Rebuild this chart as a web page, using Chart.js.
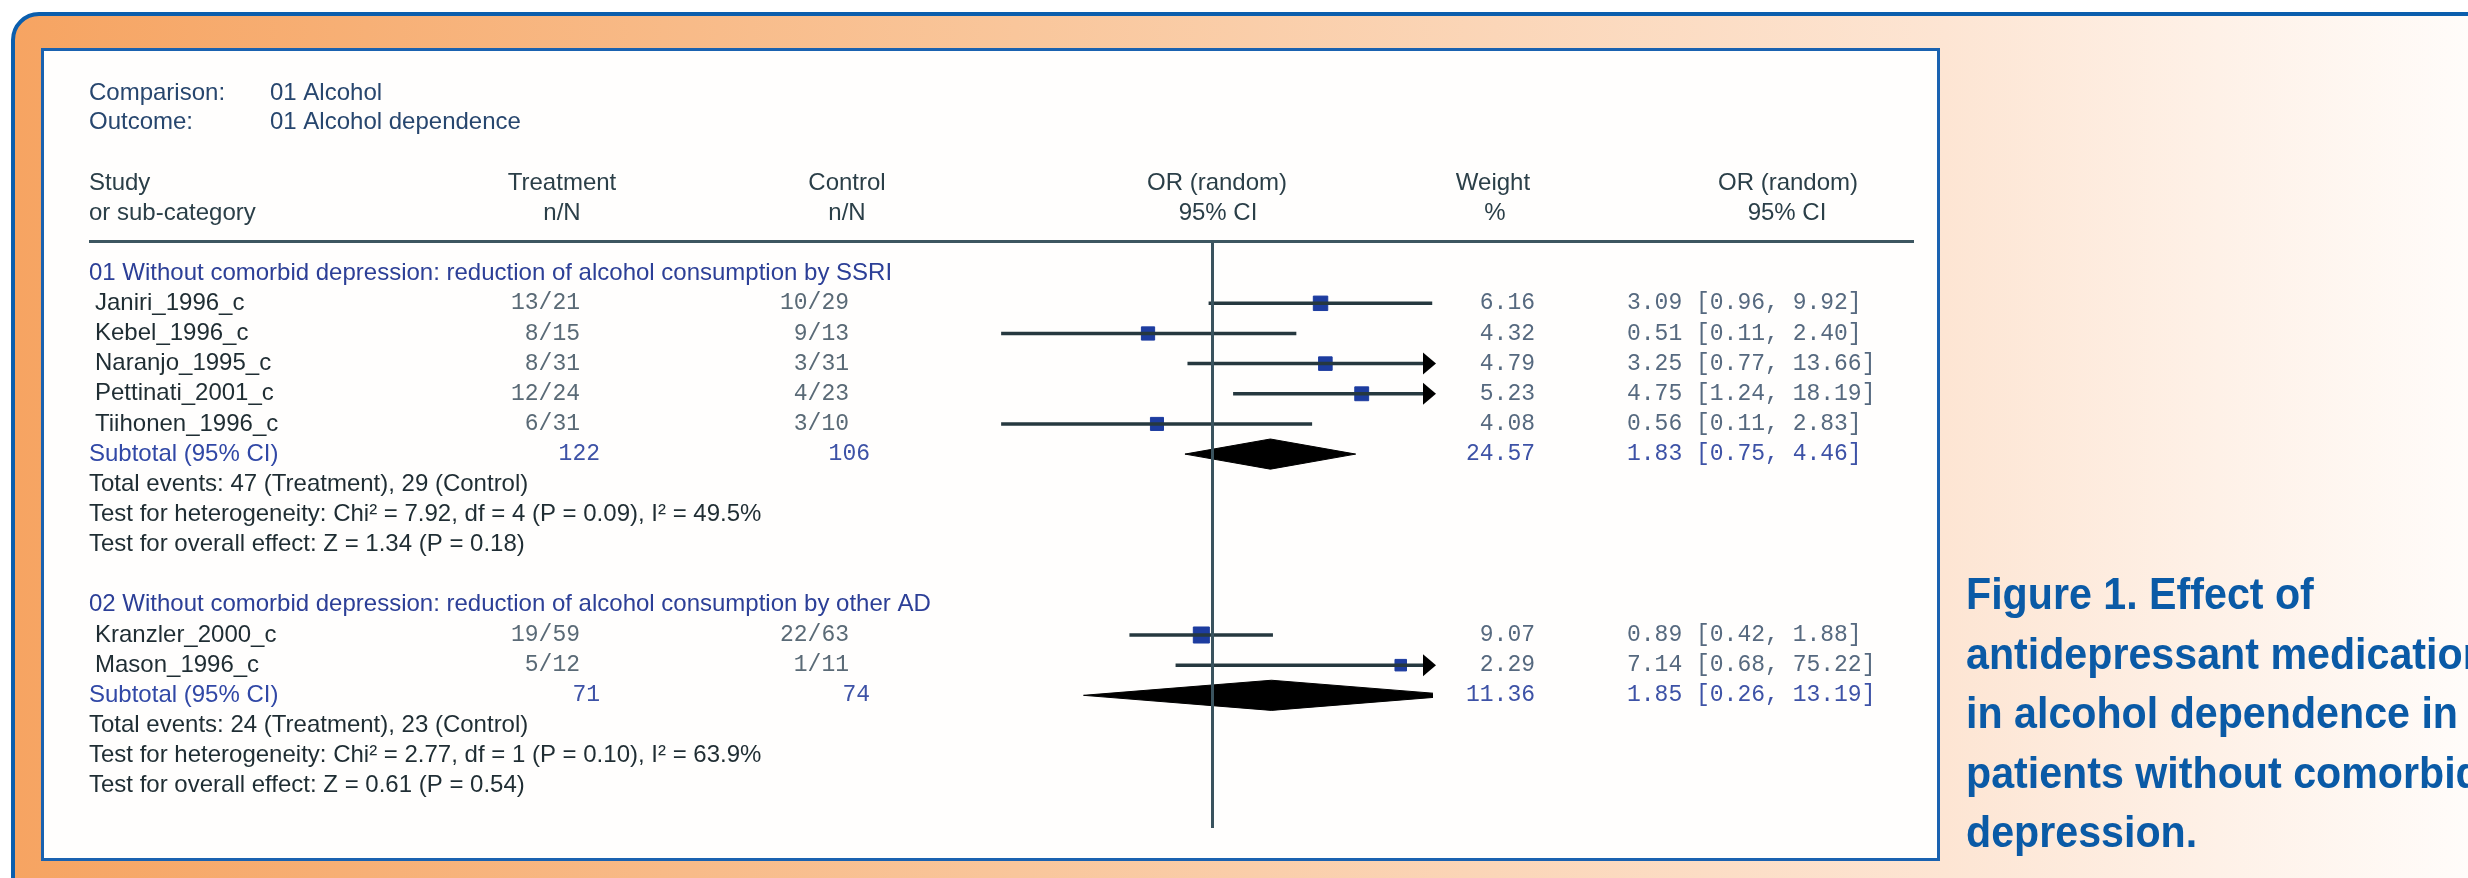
<!DOCTYPE html>
<html>
<head>
<meta charset="utf-8">
<script src="https://cdn.jsdelivr.net/npm/chart.js@4.4.1/dist/chart.umd.min.js"></script>
<style>
html,body{margin:0;padding:0;background:#fff;width:2468px;height:878px;overflow:hidden;position:relative;}
#frame{position:absolute;left:11px;top:12px;width:2500px;height:900px;border:4px solid #0b5ead;border-radius:28px;
  background:linear-gradient(to right,#f6a462 0px,#f9c69b 1000px,#fde5d3 1930px,#fffcfa 2457px);}
#panel{position:absolute;left:41px;top:48px;width:1893px;height:807px;border:3px solid #1a62b0;background:#fffefd;}
#chart{position:absolute;left:0;top:0;}
#caption{position:absolute;left:1966px;top:564px;font:bold 45px "Liberation Sans",Arial,sans-serif;color:#0a5aa6;
  line-height:59.5px;transform-origin:0 0;white-space:nowrap;}
</style>
</head>
<body>
<div id="frame"></div>
<div id="panel"></div>
<canvas id="chart" width="2468" height="878"></canvas>
<div id="caption"><span>Figure 1. Effect of</span><br><span>antidepressant medication</span><br><span id="capRef">in alcohol dependence in</span><br><span>patients without comorbid</span><br><span>depression.</span></div>
<script>
// studies
var studies   = ['Janiri_1996_c','Kebel_1996_c','Naranjo_1995_c','Pettinati_2001_c','Tiihonen_1996_c','Kranzler_2000_c','Mason_1996_c'];
var groupOf   = [0,0,0,0,0,1,1];
var treatment = ['13/21','8/15','8/31','12/24','6/31','19/59','5/12'];
var control   = ['10/29','9/13','3/31','4/23','3/10','22/63','1/11'];
var weight    = [6.16,4.32,4.79,5.23,4.08,9.07,2.29];
var orEst     = [3.09,0.51,3.25,4.75,0.56,0.89,7.14];
var orLow     = [0.96,0.11,0.77,1.24,0.11,0.42,0.68];
var orHigh    = [9.92,2.40,13.66,18.19,2.83,1.88,75.22];

// subgroups
var groupTitles = ['01 Without comorbid depression: reduction of alcohol consumption by SSRI',
                   '02 Without comorbid depression: reduction of alcohol consumption by other AD'];
var subTreat  = ['122','71'];
var subCtrl   = ['106','74'];
var subWeight = [24.57,11.36];
var subEst    = [1.83,1.85];
var subLow    = [0.75,0.26];
var subHigh   = [4.46,13.19];
var groupStats = [
  ['Total events: 47 (Treatment), 29 (Control)',
   'Test for heterogeneity: Chi\u00B2 = 7.92, df = 4 (P = 0.09), I\u00B2 = 49.5%',
   'Test for overall effect: Z = 1.34 (P = 0.18)'],
  ['Total events: 24 (Treatment), 23 (Control)',
   'Test for heterogeneity: Chi\u00B2 = 2.77, df = 1 (P = 0.10), I\u00B2 = 63.9%',
   'Test for overall effect: Z = 0.61 (P = 0.54)']
];

var axisMin = 0.1, axisMax = 10;

// row layout: title, studies, subtotal, 3 stat lines, blank
var titleRow = [], subRow = [], studyRow = [];
var r = 0;
for (var g = 0; g < groupTitles.length; g++) {
  titleRow.push(r); r++;
  for (var i = 0; i < studies.length; i++) {
    if (groupOf[i] == g) { studyRow[i] = r; r++; }
  }
  subRow.push(r); r += 5;
}

function fmt(v){ return v.toFixed(2); }

var datasets = [];
// line of no effect
datasets.push({type:'line', data:[{x:1,y:-1},{x:1,y:18.4}], borderColor:'#3a535e', borderWidth:3, pointRadius:0, clip:false});
// confidence intervals
for (var i = 0; i < studies.length; i++) {
  datasets.push({type:'line', data:[{x:orLow[i],y:studyRow[i]},{x:orHigh[i],y:studyRow[i]}],
    borderColor:'#26383f', borderWidth:3.5, pointRadius:0});
}
// subtotal diamonds
for (var g = 0; g < subEst.length; g++) {
  datasets.push({type:'line', data:[
      {x:subLow[g],y:subRow[g]},{x:subEst[g],y:subRow[g]-0.5},{x:subHigh[g],y:subRow[g]},
      {x:subEst[g],y:subRow[g]+0.5},{x:subLow[g],y:subRow[g]}],
    borderColor:'#000', backgroundColor:'#000', borderWidth:1, pointRadius:0, fill:'shape'});
}
// point estimates
datasets.push({type:'scatter', data:studies.map(function(s,i){ return {x:orEst[i], y:studyRow[i]}; }),
  pointStyle:'rect', backgroundColor:'#1d3c9f', borderColor:'#1d3c9f',
  pointRadius:weight.map(function(w){ return (7 + 3*Math.sqrt(w)) / Math.SQRT2; })});

var tablePlugin = {
  id: 'table',
  afterDraw: function(chart){
    var c = chart.ctx, ys = chart.scales.y, xs = chart.scales.x;
    var sans = '"Liberation Sans", Arial, sans-serif';
    var F = '24px ' + sans, M = '23px "Liberation Mono", "DejaVu Sans Mono", monospace';
    function txt(s, px, py, align, font, color){
      c.font = font; c.fillStyle = color; c.textAlign = align; c.textBaseline = 'middle';
      c.fillText(s, px, py);
    }
    c.save();
    // arrows for intervals past the axis
    var ax = xs.getPixelForValue(axisMax);
    c.fillStyle = '#000';
    for (var i = 0; i < studies.length; i++) {
      if (orHigh[i] > axisMax) {
        var py = ys.getPixelForValue(studyRow[i]);
        c.beginPath(); c.moveTo(ax + 3, py); c.lineTo(ax - 10, py - 11); c.lineTo(ax - 10, py + 11); c.closePath(); c.fill();
      }
    }
    // header
    txt('Comparison:', 89, 93, 'left', F, '#27466e');
    txt('01 Alcohol', 270, 93, 'left', F, '#27466e');
    txt('Outcome:', 89, 122, 'left', F, '#27466e');
    txt('01 Alcohol dependence', 270, 122, 'left', F, '#27466e');
    var hc = '#2b3f48';
    txt('Study', 89, 183, 'left', F, hc);
    txt('or sub-category', 89, 213, 'left', F, hc);
    txt('Treatment', 562, 183, 'center', F, hc); txt('n/N', 562, 213, 'center', F, hc);
    txt('Control', 847, 183, 'center', F, hc);   txt('n/N', 847, 213, 'center', F, hc);
    txt('OR (random)', 1217, 183, 'center', F, hc); txt('95% CI', 1218, 213, 'center', F, hc);
    txt('Weight', 1493, 183, 'center', F, hc);  txt('%', 1495, 213, 'center', F, hc);
    txt('OR (random)', 1788, 183, 'center', F, hc); txt('95% CI', 1787, 213, 'center', F, hc);
    c.strokeStyle = '#3d5660'; c.lineWidth = 3;
    c.beginPath(); c.moveTo(89, 241.5); c.lineTo(1914, 241.5); c.stroke();

    // groups
    for (var g = 0; g < groupTitles.length; g++) {
      txt(groupTitles[g], 89, ys.getPixelForValue(titleRow[g]), 'left', F, '#2c3f97');
      var sy = ys.getPixelForValue(subRow[g]);
      txt('Subtotal (95% CI)', 89, sy, 'left', F, '#3148a6');
      txt(subTreat[g], 600, sy, 'right', M, '#3d52a6');
      txt(subCtrl[g], 870, sy, 'right', M, '#3d52a6');
      txt(fmt(subWeight[g]), 1535, sy, 'right', M, '#3d52a6');
      txt(fmt(subEst[g]) + ' [' + fmt(subLow[g]) + ', ' + fmt(subHigh[g]) + ']', 1627, sy, 'left', M, '#3d52a6');
      for (var k = 0; k < 3; k++) {
        txt(groupStats[g][k], 89, ys.getPixelForValue(subRow[g] + 1 + k), 'left', F, '#1f2d33');
      }
    }
    for (var i = 0; i < studies.length; i++) {
      var py = ys.getPixelForValue(studyRow[i]);
      txt(studies[i], 95, py, 'left', F, '#1f2d33');
      txt(treatment[i], 580, py, 'right', M, '#5a6a76');
      txt(control[i], 849, py, 'right', M, '#5a6a76');
      txt(fmt(weight[i]), 1535, py, 'right', M, '#56697f');
      txt(fmt(orEst[i]) + ' [' + fmt(orLow[i]) + ', ' + fmt(orHigh[i]) + ']', 1627, py, 'left', M, '#56697f');
    }
    c.restore();
  }
};

var ctx = document.getElementById('chart').getContext('2d');
new Chart(ctx, {
  type: 'scatter',
  data: { datasets: datasets },
  options: {
    responsive: false,
    animation: false,
    layout: { padding: { left: 992, right: 1035, top: 243, bottom: 50 } },
    plugins: { legend: { display: false }, tooltip: { enabled: false } },
    scales: {
      x: { type: 'logarithmic', min: axisMin, max: axisMax, display: false },
      y: { type: 'linear', min: -1, max: 18.4, reverse: true, display: false }
    }
  },
  plugins: [tablePlugin]
});

// fit caption width
var cap = document.getElementById('caption');
var w = document.getElementById('capRef').getBoundingClientRect().width;
cap.style.transform = 'scaleX(' + (492 / w) + ')';
</script>
</body>
</html>
